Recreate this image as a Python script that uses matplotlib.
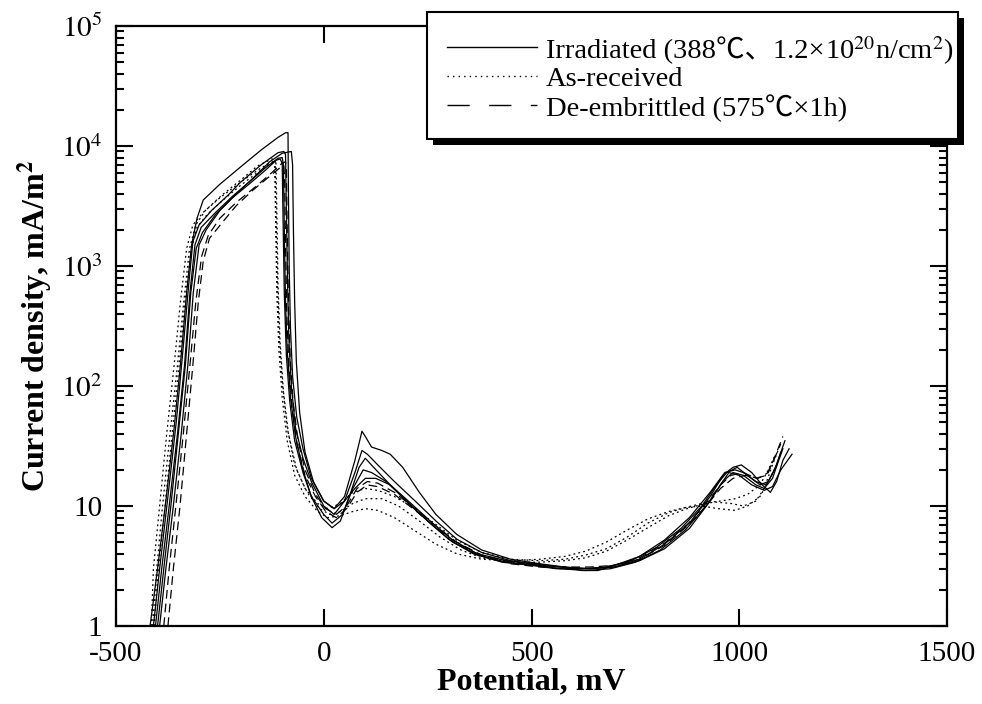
import matplotlib
matplotlib.use("Agg")
import matplotlib.pyplot as plt
from matplotlib.lines import Line2D
from matplotlib.patches import Rectangle
from matplotlib.ticker import FixedLocator, FixedFormatter, LogLocator, NullFormatter

plt.rcParams['font.family'] = ['Liberation Serif', 'Noto Sans CJK SC']
plt.rcParams['mathtext.fontset'] = 'stix'

# anodic polarization curves, (potential mV, current density mA/m2)
irr_1 = [(-418, 1), (-400, 3), (-380, 11), (-360, 45), (-345, 150), (-330, 600), (-318, 1500),
         (-305, 2500), (-290, 3550), (-250, 4800), (-200, 6700), (-150, 9300), (-110, 11800),
         (-92, 12900), (-86, 12900), (-85, 4000), (-83, 900), (-80, 300), (-75, 120), (-65, 55),
         (-50, 30), (-30, 17), (0, 11), (25, 9.5), (50, 12), (75, 24), (92, 42), (100, 38),
         (115, 31), (140, 29), (160, 27), (190, 21), (230, 13), (270, 8.5), (320, 5.8), (380, 4.3),
         (450, 3.6), (520, 3.3), (580, 3.1), (620, 2.9), (660, 2.9), (700, 3.2), (760, 3.8),
         (820, 5.2), (880, 8), (930, 13), (960, 18), (985, 21), (1005, 22), (1030, 19),
         (1055, 15), (1075, 13), (1090, 16), (1105, 24), (1120, 30)]
irr_2 = [(-410, 1), (-395, 3), (-375, 12), (-355, 50), (-340, 180), (-325, 700), (-315, 1600),
         (-300, 2200), (-270, 2900), (-230, 3900), (-200, 5000), (-150, 7000), (-110, 8800),
         (-96, 9000), (-92, 8500), (-90, 3000), (-87, 700), (-84, 250), (-78, 100), (-68, 45),
         (-50, 25), (-30, 16), (0, 10), (25, 8.5), (50, 11), (75, 19), (92, 29), (105, 27),
         (130, 22), (170, 16), (220, 11), (270, 7.5), (320, 5.3), (380, 4.1), (450, 3.5),
         (520, 3.2), (580, 3.1), (640, 3.0), (700, 3.1), (760, 3.6), (820, 4.8), (880, 7.2),
         (930, 12), (965, 19), (990, 20), (1010, 19), (1040, 16), (1065, 15), (1085, 20),
         (1100, 28), (1110, 35)]
irr_3 = [(-405, 1), (-390, 3), (-372, 10), (-352, 40), (-335, 150), (-322, 600), (-310, 1500),
         (-295, 2100), (-260, 2800), (-220, 3800), (-180, 5000), (-140, 6600), (-110, 7900),
         (-100, 8000), (-97, 7000), (-95, 2000), (-92, 500), (-88, 200), (-80, 80), (-68, 38),
         (-50, 20), (-30, 12), (-5, 8), (20, 6.6), (40, 7.5), (65, 13), (85, 21), (100, 25),
         (120, 21), (160, 15), (210, 10), (260, 7), (310, 5), (370, 3.9), (440, 3.4), (510, 3.2),
         (570, 3.0), (630, 2.9), (690, 3.0), (750, 3.4), (810, 4.3), (870, 6.3), (920, 10),
         (955, 15), (975, 19), (1000, 18), (1030, 15), (1060, 13.5), (1080, 14.5), (1100, 20),
         (1127, 27)]
irr_4 = [(-400, 1), (-385, 3), (-368, 10), (-350, 40), (-333, 150), (-320, 600), (-307, 1400),
         (-292, 1900), (-260, 2700), (-220, 3700), (-180, 4800), (-140, 6300), (-115, 7600),
         (-105, 7800), (-100, 7200), (-98, 2500), (-95, 600), (-90, 180), (-82, 75), (-70, 35),
         (-50, 19), (-30, 12), (0, 8.5), (20, 7.2), (45, 8.5), (70, 14), (95, 20), (115, 19),
         (150, 16), (200, 11), (250, 7.5), (300, 5.3), (360, 4), (430, 3.4), (500, 3.2),
         (560, 3.0), (620, 3.0), (680, 3.1), (740, 3.5), (800, 4.5), (860, 6.5), (910, 10),
         (945, 15), (970, 19), (995, 21), (1020, 18), (1050, 15), (1070, 16), (1090, 22),
         (1100, 28)]
irr_5 = [(-395, 1), (-380, 3), (-362, 10), (-343, 40), (-327, 150), (-314, 600), (-300, 1500),
         (-283, 2000), (-250, 2900), (-210, 4000), (-170, 5400), (-130, 7400), (-100, 8700),
         (-78, 9000), (-75, 7000), (-73, 2000), (-70, 500), (-66, 160), (-58, 60), (-45, 28),
         (-25, 16), (0, 11), (25, 9.5), (50, 11), (75, 14), (100, 17), (125, 17), (160, 15),
         (210, 10.5), (260, 7.3), (310, 5.2), (370, 4.0), (440, 3.5), (510, 3.3), (570, 3.1),
         (640, 3.0), (700, 3.1), (760, 3.5), (820, 4.4), (880, 6.5), (930, 11), (960, 16),
         (985, 19), (1010, 18), (1040, 15), (1060, 14), (1080, 17), (1095, 24), (1105, 30)]

recv_1 = [(-415, 1), (-410, 3), (-395, 10), (-378, 40), (-360, 150), (-345, 500), (-330, 1400),
          (-315, 2200), (-290, 2800), (-250, 3700), (-200, 5000), (-150, 6600), (-120, 7500),
          (-115, 7200), (-113, 3000), (-110, 700), (-105, 230), (-97, 90), (-85, 40), (-65, 20),
          (-40, 13), (-10, 9.5), (15, 8.5), (40, 9), (70, 10.5), (100, 11.5), (140, 11.5),
          (180, 10), (230, 7.5), (280, 5.5), (330, 4.3), (380, 3.7), (450, 3.4), (520, 3.4),
          (580, 3.5), (630, 3.7), (680, 4.2), (730, 5.2), (780, 6.6), (830, 8.3), (870, 9.4),
          (905, 10.2), (940, 10.8), (980, 10.5), (1010, 10), (1040, 11), (1060, 14), (1080, 22),
          (1095, 30)]
recv_2 = [(-408, 1), (-398, 3), (-382, 10), (-365, 40), (-348, 150), (-334, 500), (-320, 1300),
          (-305, 2100), (-280, 2700), (-240, 3600), (-200, 4700), (-160, 6000), (-125, 7200),
          (-118, 7000), (-116, 2500), (-113, 600), (-108, 200), (-100, 80), (-88, 35), (-70, 18),
          (-45, 12), (-15, 9), (10, 8), (40, 8.3), (70, 9), (100, 9.5), (130, 9.2), (170, 8),
          (220, 6.2), (270, 4.8), (320, 4), (380, 3.6), (450, 3.5), (520, 3.6), (580, 3.8),
          (630, 4.2), (680, 5), (730, 6.3), (780, 7.8), (830, 9), (870, 9.7), (910, 10),
          (950, 9.5), (990, 9.2), (1020, 10), (1050, 12), (1070, 16), (1090, 22)]
recv_3 = [(-412, 1), (-402, 3), (-388, 10), (-370, 40), (-352, 150), (-337, 500), (-323, 1400),
          (-308, 2200), (-285, 2900), (-245, 3900), (-200, 5200), (-160, 6800), (-125, 7800),
          (-117, 7600), (-115, 3000), (-112, 800), (-107, 250), (-99, 100), (-88, 45), (-70, 22),
          (-45, 14), (-15, 10.5), (10, 9.5), (40, 10.5), (70, 13), (100, 14), (130, 13.5),
          (170, 12), (220, 9.5), (270, 7), (320, 5.2), (380, 4.1), (450, 3.6), (520, 3.5),
          (580, 3.6), (630, 3.9), (680, 4.4), (730, 5.5), (780, 7.2), (830, 8.8), (875, 9.8),
          (915, 10.6), (955, 11), (990, 11.5), (1020, 12.5), (1050, 15), (1070, 20), (1085, 26)]

deemb_1 = [(-385, 1), (-372, 3), (-356, 10), (-338, 40), (-322, 150), (-308, 500), (-294, 1200),
           (-278, 1800), (-250, 2500), (-210, 3400), (-160, 4700), (-125, 6000), (-100, 7200),
           (-92, 7400), (-90, 6500), (-88, 2000), (-85, 500), (-81, 180), (-74, 75), (-62, 35),
           (-45, 20), (-20, 12.5), (5, 9.5), (30, 8.5), (55, 10), (80, 14), (105, 16), (130, 15.5),
           (170, 13), (220, 9.5), (270, 6.8), (320, 5), (380, 3.9), (450, 3.4), (520, 3.2),
           (580, 3.1), (640, 3.1), (700, 3.2), (760, 3.7), (820, 4.9), (875, 7), (920, 10.5),
           (955, 15), (980, 18), (1010, 19), (1040, 17), (1065, 18), (1085, 25), (1100, 33)]
deemb_2 = [(-375, 1), (-362, 3), (-346, 10), (-330, 40), (-315, 150), (-302, 500), (-290, 1100),
           (-275, 1700), (-240, 2400), (-210, 3200), (-170, 4300), (-130, 5600), (-105, 6600),
           (-96, 6900), (-94, 5000), (-92, 1500), (-89, 400), (-84, 150), (-76, 65), (-64, 32),
           (-45, 18), (-20, 12), (5, 9), (30, 8), (55, 9.5), (80, 13), (105, 15), (130, 14.5),
           (170, 12.5), (220, 9.2), (270, 6.6), (320, 4.9), (380, 3.8), (450, 3.3), (520, 3.1),
           (580, 3.0), (640, 3.0), (700, 3.2), (760, 3.6), (820, 4.7), (875, 6.8), (920, 10),
           (955, 14), (985, 17), (1015, 18), (1045, 17), (1070, 19), (1090, 28), (1105, 38)]

irradiated = [irr_1, irr_2, irr_3, irr_4, irr_5]
as_received = [recv_1, recv_2, recv_3]
de_embrittled = [deemb_1, deemb_2]

x_ticks = [-500, 0, 500, 1000, 1500]
y_ticks = [1, 10, 100, 1000, 10000, 100000]
y_labels = ['1', '10', r'$10^2$', r'$10^3$', r'$10^4$', r'$10^5$']

# the first label is split: plain text (CJK signs) + mathtext part (superscripts)
label_irr = ('Irradiated (388\u2103\u30011.2\u00d7', '10$^{20}$n/cm$^{2}$)')
label_recv = 'As-received'
label_deemb = 'De-embrittled (575\u2103\u00d71h)'

W, H = 982, 704
fig = plt.figure(figsize=(W / 100, H / 100), dpi=100)
ax = fig.add_axes([116 / W, 78 / H, 831 / W, 600 / H])

dotted = (0, (1.5, 2.5))
dashed = (0, (7, 4))


def draw(curves, style):
    for c in curves:
        mv = [p[0] for p in c]
        ma = [p[1] for p in c]
        ax.plot(mv, ma, color='black', lw=0.9, linestyle=style)


draw(irradiated, '-')
draw(as_received, dotted)
draw(de_embrittled, dashed)

ax.set_yscale('log')
ax.set_xlim(-500, 1500)
ax.set_ylim(1, 1e5)

ax.xaxis.set_major_locator(FixedLocator(x_ticks))
ax.xaxis.set_major_formatter(FixedFormatter([str(v) for v in x_ticks]))
ax.yaxis.set_major_locator(FixedLocator(y_ticks))
ax.yaxis.set_major_formatter(FixedFormatter(y_labels))
ax.yaxis.set_minor_locator(LogLocator(base=10, subs=range(2, 10)))
ax.yaxis.set_minor_formatter(NullFormatter())

ax.tick_params(which='both', direction='in', top=True, right=True, width=1.5)
ax.tick_params(which='major', length=12, labelsize=21)
ax.tick_params(which='minor', length=6)
ax.tick_params(axis='x', pad=11)
ax.tick_params(axis='y', pad=10)
for s in ax.spines.values():
    s.set_linewidth(1.6)

ax.set_xlabel('Potential, mV', fontsize=23, fontweight='bold', labelpad=0)
ax.set_ylabel('Current density, mA/m$^\\mathbf{2}$', fontsize=23, fontweight='bold', labelpad=4)


# hand-built legend box (pixel positions from the top-left corner)
def fx(px):
    return px / W


def fy(py):
    return 1 - py / H


box_l, box_t, box_r, box_b = 427, 12, 958, 139
fig.add_artist(Rectangle((fx(box_l + 6), fy(box_b + 6)), fx(box_r - box_l), (box_b - box_t) / H,
                         transform=fig.transFigure, facecolor='black', edgecolor='none',
                         zorder=5))
fig.add_artist(Rectangle((fx(box_l), fy(box_b)), fx(box_r - box_l), (box_b - box_t) / H,
                         transform=fig.transFigure, facecolor='white', edgecolor='black',
                         lw=1.5, zorder=6))

rows = [47, 76, 105]
samples = ['-', (0, (1, 3)), (0, (16, 14))]
for y, ls in zip(rows, samples):
    fig.add_artist(Line2D([fx(447), fx(537)], [fy(y), fy(y)], transform=fig.transFigure,
                          color='black', lw=1.0, linestyle=ls, zorder=7))

leg_size = 20.5
txt_a = fig.text(fx(546), fy(rows[0]), label_irr[0], fontsize=leg_size, va='center_baseline',
                 ha='left', zorder=7)
fig.canvas.draw()
ext = txt_a.get_window_extent()
fig.text(ext.x1 / W, fy(rows[0]), label_irr[1], fontsize=leg_size, va='center_baseline',
         ha='left', zorder=7)
fig.text(fx(546), fy(rows[1]), label_recv, fontsize=leg_size, va='center_baseline',
         ha='left', zorder=7)
fig.text(fx(546), fy(rows[2]), label_deemb, fontsize=leg_size, va='center_baseline',
         ha='left', zorder=7)

fig.savefig('out.png', dpi=100)
